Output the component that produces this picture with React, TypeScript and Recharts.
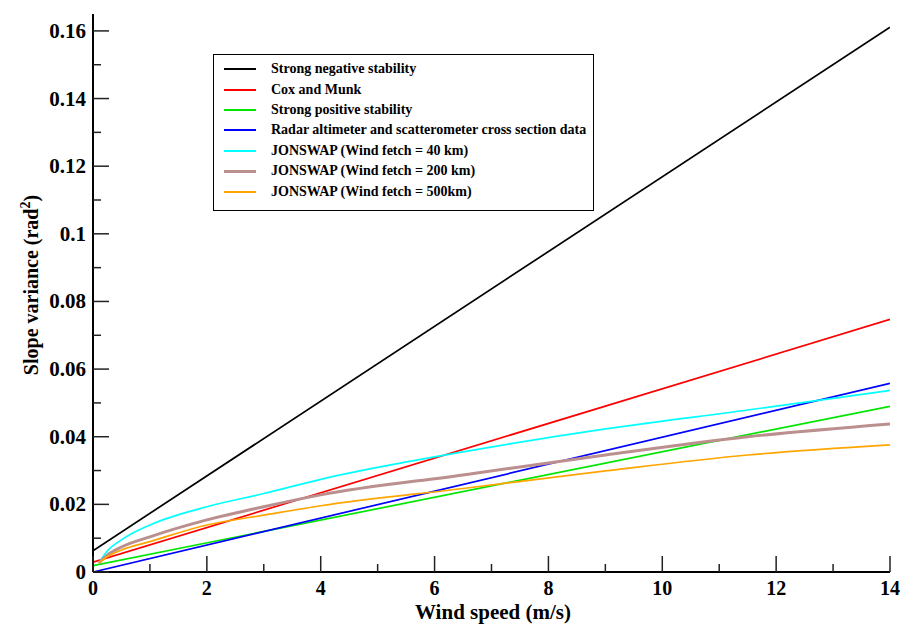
import React from 'react';
import { LineChart, Line, XAxis, YAxis, Legend } from 'recharts';

// straight-line relations, read at both ends of the wind speed range
const linearWind = [0, 14];
const negativeStability = [0.0063, 0.1611];
const coxMunk = [0.0029, 0.0747];
const positiveStability = [0.0019, 0.049];
const radarData = [0.0, 0.0558];

// JONSWAP curves
const jonswapWind = [0.1, 0.25, 0.5, 1, 2, 3, 4, 6.5, 9, 11.5, 14];
const fetch40 = [0.0026, 0.0062, 0.0095, 0.0139, 0.0193, 0.0232, 0.0274, 0.0355, 0.0423, 0.0479, 0.0537];
const fetch200 = [0.0026, 0.005, 0.0074, 0.0104, 0.0154, 0.0193, 0.0228, 0.0287, 0.0346, 0.04, 0.0438];
const fetch500 = [0.0026, 0.0045, 0.0065, 0.009, 0.0139, 0.0168, 0.0196, 0.0247, 0.0299, 0.0346, 0.0376];

const xTicks = [0, 1, 2, 3, 4, 5, 6, 7, 8, 9, 10, 11, 12, 13, 14];
const yTicks = [0, 0.01, 0.02, 0.03, 0.04, 0.05, 0.06, 0.07, 0.08, 0.09, 0.1, 0.11, 0.12, 0.13, 0.14, 0.15, 0.16];

const toPoints = (xs: number[], ys: number[]) => xs.map((x, i) => ({ x, y: ys[i] }));

const series = [
  { name: 'Strong negative stability', color: '#000000', width: 1.7, data: toPoints(linearWind, negativeStability) },
  { name: 'Cox and Munk', color: '#ff0000', width: 1.7, data: toPoints(linearWind, coxMunk) },
  { name: 'Strong positive stability', color: '#00e600', width: 1.7, data: toPoints(linearWind, positiveStability) },
  { name: 'Radar altimeter and scatterometer cross section data', color: '#0000ff', width: 1.7, data: toPoints(linearWind, radarData) },
  { name: 'JONSWAP (Wind fetch = 40 km)', color: '#00ffff', width: 1.7, data: toPoints(jonswapWind, fetch40) },
  { name: 'JONSWAP (Wind fetch = 200 km)', color: '#bc8f8f', width: 3, data: toPoints(jonswapWind, fetch200) },
  { name: 'JONSWAP (Wind fetch = 500km)', color: '#ffa500', width: 1.7, data: toPoints(jonswapWind, fetch500) },
];

const FONT = '"Liberation Serif", "Times New Roman", serif';
const TICK_COLOR = '#222';

const isMajorX = (v: number) => Math.round(v) % 2 === 0;
const isMajorY = (v: number) => Math.round(v * 100) % 2 === 0;
const fmtY = (v: number) => Number(v.toFixed(2)).toString();

const BottomTick = ({ x, y, payload }: any) => {
  const major = isMajorX(payload.value);
  return (
    <g>
      <line x1={x} y1={y} x2={x} y2={y - (major ? 16 : 8)} stroke={TICK_COLOR} strokeWidth={1.5} />
      {major && (
        <text x={x} y={y + 23} textAnchor="middle" fontFamily={FONT} fontWeight="bold" fontSize={20} fill="#000">
          {payload.value}
        </text>
      )}
    </g>
  );
};

const TopTick = ({ x, y, payload }: any) => {
  const major = isMajorX(payload.value);
  return <line x1={x} y1={y} x2={x} y2={y + (major ? 16 : 8)} stroke={TICK_COLOR} strokeWidth={1.5} />;
};

const LeftTick = ({ x, y, payload }: any) => {
  const major = isMajorY(payload.value);
  return (
    <g>
      <line x1={x} y1={y} x2={x + (major ? 16 : 8)} y2={y} stroke={TICK_COLOR} strokeWidth={1.5} />
      {major && (
        <text x={x - 7} y={y + 7} textAnchor="end" fontFamily={FONT} fontWeight="bold" fontSize={21} fill="#000">
          {fmtY(payload.value)}
        </text>
      )}
    </g>
  );
};

const RightTick = ({ x, y, payload }: any) => {
  const major = isMajorY(payload.value);
  return <line x1={x} y1={y} x2={x - (major ? 16 : 8)} y2={y} stroke={TICK_COLOR} strokeWidth={1.5} />;
};

const XTitle = () => (
  <text x={493} y={619} textAnchor="middle" fontFamily={FONT} fontWeight="bold" fontSize={21} fill="#000">
    Wind speed (m/s)
  </text>
);

const YTitle = () => (
  <text
    x={0}
    y={0}
    transform="translate(38, 285) rotate(-90)"
    textAnchor="middle"
    fontFamily={FONT}
    fontWeight="bold"
    fontSize={20}
    fill="#000"
  >
    Slope variance (rad
    <tspan dy={-8} fontSize={14}>2</tspan>
    <tspan dy={8}>)</tspan>
  </text>
);

const LegendBox = () => (
  <div
    style={{
      width: 379,
      height: 151,
      border: '1px solid #000',
      background: '#fff',
      boxSizing: 'content-box',
      paddingTop: 4,
      fontFamily: FONT,
      fontWeight: 'bold',
      fontSize: 14,
      color: '#000',
    }}
  >
    {series.map((s) => (
      <div key={s.name} style={{ display: 'flex', alignItems: 'center', height: 20.4 }}>
        <div style={{ width: 32, height: s.width > 2 ? 3 : 2, background: s.color, marginLeft: 10, marginRight: 15 }} />
        <span style={{ whiteSpace: 'nowrap' }}>{s.name}</span>
      </div>
    ))}
  </div>
);

export default function App() {
  return (
    <div style={{ position: 'absolute', left: 0, top: 0, width: 901, height: 626, background: '#fff' }}>
      <LineChart width={901} height={626} margin={{ top: 14, right: 11, left: 0, bottom: 0 }}>
        <XAxis
          dataKey="x"
          type="number"
          domain={[0, 14]}
          ticks={xTicks}
          interval={0}
          height={54}
          tickSize={0}
          tickMargin={0}
          tickLine={false}
          tick={<BottomTick />}
          axisLine={{ stroke: '#000', strokeWidth: 2 }}
          label={<XTitle />}
          allowDataOverflow
        />
        <XAxis
          xAxisId="top"
          orientation="top"
          dataKey="x"
          type="number"
          domain={[0, 14]}
          ticks={xTicks}
          interval={0}
          height={0}
          tickSize={0}
          tickMargin={0}
          tickLine={false}
          tick={<TopTick />}
          axisLine={{ stroke: '#000', strokeWidth: 2 }}
          allowDataOverflow
        />
        <YAxis
          type="number"
          domain={[0, 0.165]}
          ticks={yTicks}
          interval={0}
          width={93}
          tickSize={0}
          tickMargin={0}
          tickLine={false}
          tick={<LeftTick />}
          axisLine={{ stroke: '#000', strokeWidth: 2 }}
          label={<YTitle />}
          allowDataOverflow
        />
        <YAxis
          yAxisId="right"
          orientation="right"
          type="number"
          domain={[0, 0.165]}
          ticks={yTicks}
          interval={0}
          width={0}
          tickSize={0}
          tickMargin={0}
          tickLine={false}
          tick={<RightTick />}
          axisLine={{ stroke: '#000', strokeWidth: 2 }}
          allowDataOverflow
        />
        <Legend
          layout="vertical"
          align="center"
          verticalAlign="middle"
          wrapperStyle={{ left: 213, top: 54, width: 381 }}
          content={<LegendBox />}
        />
        {series.map((s) => (
          <Line
            key={s.name}
            data={s.data}
            dataKey="y"
            name={s.name}
            type="monotone"
            stroke={s.color}
            strokeWidth={s.width}
            dot={false}
            activeDot={false}
            isAnimationActive={false}
          />
        ))}
      </LineChart>
    </div>
  );
}
